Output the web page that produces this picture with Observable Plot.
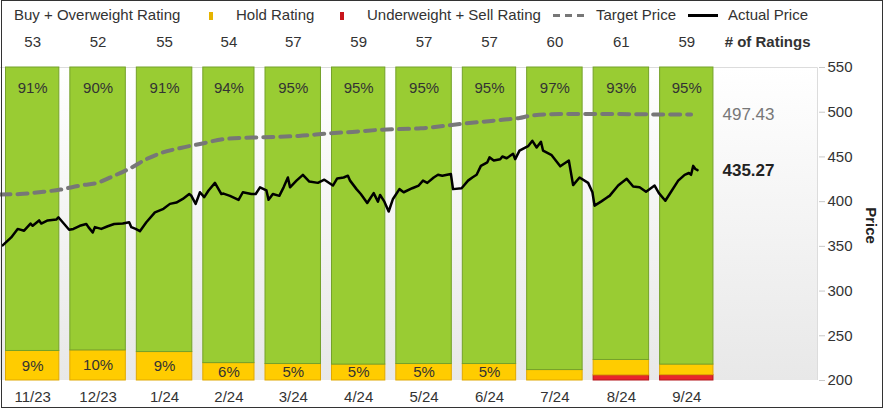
<!DOCTYPE html>
<html>
<head>
<meta charset="utf-8">
<script src="https://cdn.jsdelivr.net/npm/d3@7"></script>
<script src="https://cdn.jsdelivr.net/npm/@observablehq/plot@0.6"></script>
<style>
  html, body { margin: 0; padding: 0; background: #fff; }
  #wrap { position: relative; width: 885px; height: 411px; font-family: "Liberation Sans", Arial, sans-serif; color: #333; }
  #border { position: absolute; left: 1px; top: 0; width: 880px; height: 406px; border: 1px solid #333; pointer-events: none; }
  .lg { position: absolute; top: 7px; font-size: 15px; line-height: 15px; color: #333; white-space: nowrap; }
  .sw { position: absolute; }
</style>
</head>
<body>
<div id="wrap">
  <div id="chart"></div>
  <div id="legend"></div>
  <div id="border"></div>
</div>
<script>
// ---- data ----
const months = ["11/23","12/23","1/24","2/24","3/24","4/24","5/24","6/24","7/24","8/24","9/24"];
const monthStarts = ["2023-11-01","2023-12-01","2024-01-01","2024-02-01","2024-03-01","2024-04-01","2024-05-01","2024-06-01","2024-07-01","2024-08-01","2024-09-01"];
const totalRatings = [53,52,55,54,57,59,57,57,60,61,59];
const buyCounts  = [48,47,50,51,54,56,54,54,58,57,56];
const holdCounts = [5,5,5,3,3,3,3,3,2,3,2];
const sellCounts = [0,0,0,0,0,0,0,0,0,1,1];
const yTicks = [200,250,300,350,400,450,500,550];

const targetDates = ["2023-11-01","2023-11-10","2023-11-21","2023-11-29","2023-12-08","2023-12-16","2023-12-24","2024-01-01","2024-01-08","2024-01-15","2024-01-24","2024-02-02","2024-02-15","2024-03-03","2024-03-19","2024-04-03","2024-04-13","2024-04-27","2024-05-15","2024-06-03","2024-06-22","2024-06-30","2024-07-05","2024-07-19","2024-08-11","2024-09-04","2024-09-18"];
const targetPrices = [408,408.5,411,413.5,418,421,429,438,447.5,454.5,460,464.5,470.5,472,473.5,476.5,478,480.5,482,487,491.5,493.5,496,498,498,497.5,497.43];

const actualDates = ["2023-11-02","2023-11-06","2023-11-09","2023-11-12","2023-11-15","2023-11-16","2023-11-19","2023-11-20","2023-11-23","2023-11-27","2023-11-28","2023-11-30",
"2023-12-03","2023-12-05","2023-12-08","2023-12-11","2023-12-12","2023-12-14","2023-12-15","2023-12-18","2023-12-21","2023-12-24","2023-12-28","2023-12-31",
"2024-01-01","2024-01-03","2024-01-05","2024-01-08","2024-01-12","2024-01-16","2024-01-19","2024-01-22","2024-01-25","2024-01-28","2024-01-29","2024-01-31",
"2024-02-02","2024-02-04","2024-02-06","2024-02-09","2024-02-12","2024-02-13","2024-02-16","2024-02-20","2024-02-22","2024-02-26","2024-02-28",
"2024-03-01","2024-03-04","2024-03-05","2024-03-07","2024-03-10","2024-03-12","2024-03-14","2024-03-15","2024-03-18","2024-03-21","2024-03-24","2024-03-28","2024-03-31",
"2024-04-04","2024-04-06","2024-04-09","2024-04-11","2024-04-12","2024-04-15","2024-04-17","2024-04-20","2024-04-23","2024-04-25","2024-04-26","2024-04-28","2024-04-30",
"2024-05-02","2024-05-05","2024-05-07","2024-05-11","2024-05-14","2024-05-16","2024-05-18","2024-05-21","2024-05-23","2024-05-25","2024-05-29","2024-05-30",
"2024-06-03","2024-06-06","2024-06-08","2024-06-10","2024-06-12","2024-06-15","2024-06-16","2024-06-18","2024-06-21","2024-06-22","2024-06-24","2024-06-27","2024-06-28","2024-06-30",
"2024-07-04","2024-07-06","2024-07-08","2024-07-10","2024-07-11","2024-07-15","2024-07-19","2024-07-23","2024-07-25","2024-07-28",
"2024-08-01","2024-08-03","2024-08-04","2024-08-07","2024-08-10","2024-08-11","2024-08-15","2024-08-16","2024-08-19","2024-08-22","2024-08-25","2024-08-28",
"2024-09-01","2024-09-03","2024-09-06","2024-09-08","2024-09-12","2024-09-15","2024-09-17","2024-09-18","2024-09-19","2024-09-20","2024-09-21"];
const actualPrices = [351,360,369.5,367.5,375.5,373,379,375.5,379,380,382.5,377,
368.5,369.5,373,375,371.5,365.5,371.5,369.5,372.5,375,375.5,377,
371.5,369.5,367,377,388,392,397.5,399,403,408.5,406.5,397.5,
410.5,405,412.5,421,408.5,409,406.5,402,410.5,408.5,408.5,
416,412.5,402,408.5,406.5,416,427,416,423.5,430,422.5,421,424.5,
418,426,427,429,423.5,414,408.5,398.5,409.5,400,407.5,400,389,
403,414,410.5,415,418,423.5,421,427,430,429,431,414,
415,423.5,427,430,440,444,449.5,446,447.5,450.5,448.5,453.5,447.5,457,
462,468,460.5,467,457,452,439.5,446,418.5,427,
421,410.5,395.5,400,405,406.5,418,420,425.5,417,416,411,
418,409.5,401,408.5,423.5,430,432,430,440,436.5,435.27];

// ---- derived tables ----
const parse = d3.utcParse("%Y-%m-%d");
const Y0 = 200, Y1 = 550;
const toY = p => Y0 + p * (Y1 - Y0); // share (0..1) onto price axis span
const bars = months.map((m, i) => {
  const start = parse(monthStarts[i]);
  const end = d3.utcMonth.offset(start, 1);
  const mid = new Date((+start + +end) / 2);
  const t = totalRatings[i];
  const s = sellCounts[i] / t, h = holdCounts[i] / t;
  return {m, start, end, mid, total: t, s, h,
    buyLabel: Math.round(buyCounts[i] / t * 100) + "%",
    holdLabel: h >= 0.05 ? Math.round(h * 100) + "%" : ""};
});
const segs = [];
bars.forEach(b => {
  if (b.s > 0) segs.push({...b, y1: toY(0), y2: toY(b.s), k: "sell"});
  segs.push({...b, y1: toY(b.s), y2: toY(b.s + b.h), k: "hold"});
  segs.push({...b, y1: toY(b.s + b.h), y2: toY(1), k: "buy"});
});
const fills = {buy: "#99cc33", hold: "#ffcc00", sell: "#e8262b"};
const strokes = {buy: "#74a12a", hold: "#e0a800", sell: "#b3141a"};
const target = targetDates.map((d, i) => ({date: parse(d), price: targetPrices[i]}));
const actual = actualDates.map((d, i) => ({date: parse(d), price: actualPrices[i]}));
const lastTarget = target[target.length - 1];
const lastActual = actual[actual.length - 1];

function background(index, scales, values, dim) {
  const {width, height, marginLeft, marginRight, marginTop, marginBottom} = dim;
  const g = d3.create("svg:g");
  const lg = g.append("defs").append("linearGradient").attr("id", "bgGrad")
    .attr("x1", 0).attr("y1", 0).attr("x2", 0).attr("y2", 1);
  lg.append("stop").attr("offset", "0%").attr("stop-color", "#ffffff");
  lg.append("stop").attr("offset", "100%").attr("stop-color", "#e8e8e8");
  const x0 = marginLeft, x1 = width - marginRight, y0 = marginTop, y1 = height - marginBottom;
  g.append("rect").attr("x", x0).attr("y", y0).attr("width", x1 - x0).attr("height", y1 - y0).attr("fill", "url(#bgGrad)");
  g.append("path").attr("d", `M${x0},${y0 + 0.5}H${x1 - 0.5}V${y1}`).attr("fill", "none").attr("stroke", "#dcdcdc");
  return g.node();
}

const chart = Plot.plot({
  width: 885,
  height: 411,
  marginTop: 67,
  marginBottom: 31,
  marginLeft: 0,
  marginRight: 67,
  style: {fontFamily: "'Liberation Sans', Arial, sans-serif", fontSize: "15px", color: "#333", background: "transparent", overflow: "visible"},
  x: {type: "utc", domain: [parse("2023-11-01"), new Date(Date.UTC(2024, 10, 16, 10))]},
  y: {domain: [Y0, Y1]},
  marks: [
    background,
    Plot.rect(segs, {x1: "start", x2: "end", y1: "y1", y2: "y2", insetLeft: 5.5, insetRight: 5.5,
      fill: d => fills[d.k], stroke: d => strokes[d.k], strokeWidth: 1}),
    Plot.text(bars, {x: "mid", frameAnchor: "top", dy: 15, text: "buyLabel", fill: "#333", fontSize: 15}),
    Plot.text(bars, {x: "mid", y: d => toY(d.s + d.h / 2), text: "holdLabel", fill: "#333", fontSize: 15}),
    Plot.line(target, {x: "date", y: "price", stroke: "#777", strokeWidth: 4, strokeDasharray: "10,7", curve: "monotone-x"}),
    Plot.line(actual, {x: "date", y: "price", stroke: "#000", strokeWidth: 2.5, strokeLinejoin: "round"}),
    Plot.text([lastTarget], {y: "price", frameAnchor: "right", dx: -96, textAnchor: "start", text: d => d.price.toFixed(2), fill: "#777", fontSize: 17}),
    Plot.text([lastActual], {y: "price", frameAnchor: "right", dx: -96, textAnchor: "start", text: d => d.price.toFixed(2), fill: "#222", fontSize: 17, fontWeight: "bold"}),
    Plot.text(bars, {x: "mid", frameAnchor: "top", dy: -31.5, text: d => String(d.total), fill: "#333", fontSize: 15}),
    Plot.text(["# of Ratings"], {frameAnchor: "top-right", dy: -31.5, dx: -8, textAnchor: "end", fill: "#333", fontSize: 15, fontWeight: "bold"}),
    Plot.axisY({anchor: "right", ticks: yTicks, tickSize: 6, tickPadding: 3, stroke: "#c8c8c8", fill: "#333", fontSize: 15, label: null}),
    Plot.text(["Price"], {frameAnchor: "right", dx: 52, dy: 1.5, rotate: 90, textAnchor: "middle", fontWeight: "bold", fill: "#222", fontSize: 15}),
    Plot.axisX({ticks: bars.map(b => b.mid), tickFormat: (d, i) => months[i], tickSize: 0, tickPadding: 11, fill: "#333", fontSize: 15, label: null})
  ]
});
document.getElementById("chart").appendChild(chart);

// ---- legend (HTML) ----
const legendItems = [
  {type: "text", left: 14, text: "Buy + Overweight Rating"},
  {type: "rect", left: 209, color: "#e6b400"},
  {type: "text", left: 236, text: "Hold Rating"},
  {type: "rect", left: 340, color: "#c8151c"},
  {type: "text", left: 367, text: "Underweight + Sell Rating"},
  {type: "dash", left: 553},
  {type: "text", left: 596, text: "Target Price"},
  {type: "solid", left: 688},
  {type: "text", left: 728, text: "Actual Price"}
];
const legend = document.getElementById("legend");
legendItems.forEach(it => {
  const el = document.createElement("div");
  if (it.type === "text") {
    el.className = "lg"; el.textContent = it.text;
    el.style.left = it.left + "px";
  } else if (it.type === "rect") {
    el.className = "sw";
    Object.assign(el.style, {left: it.left + "px", top: "12px", width: "4px", height: "8px", background: it.color});
  } else if (it.type === "dash") {
    el.className = "sw";
    Object.assign(el.style, {left: it.left + "px", top: "14px", width: "31px", height: "3px",
      background: "repeating-linear-gradient(90deg, #777 0 7px, transparent 7px 12px)"});
  } else {
    el.className = "sw";
    Object.assign(el.style, {left: it.left + "px", top: "14px", width: "30px", height: "2.5px", background: "#000"});
  }
  legend.appendChild(el);
});
</script>
</body>
</html>
